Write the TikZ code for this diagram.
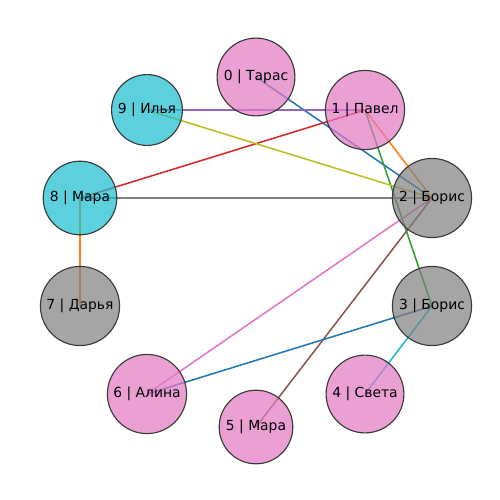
\documentclass[tikz,border=0pt]{standalone}
\usepackage{fontspec}
\setmainfont{DejaVu Sans}
\pgfdeclarelayer{bg}
\pgfsetlayers{bg,main}
\definecolor{tblue}{HTML}{1F77B4}
\definecolor{torange}{HTML}{FF7F0E}
\definecolor{tgreen}{HTML}{2CA02C}
\definecolor{tred}{HTML}{D62728}
\definecolor{tpurple}{HTML}{9467BD}
\definecolor{tbrown}{HTML}{8C564B}
\definecolor{tpink}{HTML}{E377C2}
\definecolor{tgray}{HTML}{7F7F7F}
\definecolor{tolive}{HTML}{BCBD22}
\definecolor{tcyan}{HTML}{17BECF}
\tikzset{
  vert/.style={circle, draw=black!78, line width=0.8pt, fill opacity=0.7, text opacity=1, inner sep=0pt, font=\fontsize{10}{12}\selectfont},
  pinkv/.style={vert, fill=tpink},
  cyanv/.style={vert, fill=tcyan},
  grayv/.style={vert, fill=tgray},
  edge/.style={line width=1.1pt}
}
\begin{document}
\begin{tikzpicture}[x=0.72pt,y=-0.72pt]
\useasboundingbox (0,0) rectangle (500,500);
\node[pinkv, minimum size=56pt] (n0) at (256,77) {0 | Тарас};
\node[pinkv, minimum size=57pt] (n1) at (365,110) {1 | Павел};
\node[grayv, minimum size=57pt] (n2) at (432,198) {2 | Борис};
\node[grayv, minimum size=57pt] (n3) at (432,306) {3 | Борис};
\node[pinkv, minimum size=56pt] (n4) at (365,394) {4 | Света};
\node[pinkv, minimum size=53pt] (n5) at (256,427) {5 | Мара};
\node[pinkv, minimum size=57pt] (n6) at (147,394) {6 | Алина};
\node[grayv, minimum size=57pt] (n7) at (80,306) {7 | Дарья};
\node[cyanv, minimum size=53pt] (n8) at (80,198) {8 | Мара};
\node[cyanv, minimum size=51pt] (n9) at (147,110) {9 | Илья};
\begin{pgfonlayer}{bg}
\draw[edge, tblue] (n0.center) -- (n2.center);
\draw[edge, torange] (n1.center) -- (n2.center);
\draw[edge, tgreen] (n1.center) -- (n3.center);
\draw[edge, tred] (n1.center) -- (n8.center);
\draw[edge, tpurple] (n1.center) -- (n9.center);
\draw[edge, tbrown] (n2.center) -- (n5.center);
\draw[edge, tpink] (n2.center) -- (n6.center);
\draw[edge, tgray] (n2.center) -- (n8.center);
\draw[edge, tolive] (n2.center) -- (n9.center);
\draw[edge, tcyan] (n3.center) -- (n4.center);
\draw[edge, tblue] (n3.center) -- (n6.center);
\draw[edge, torange] (n7.center) -- (n8.center);
\end{pgfonlayer}
\end{tikzpicture}
\end{document}
